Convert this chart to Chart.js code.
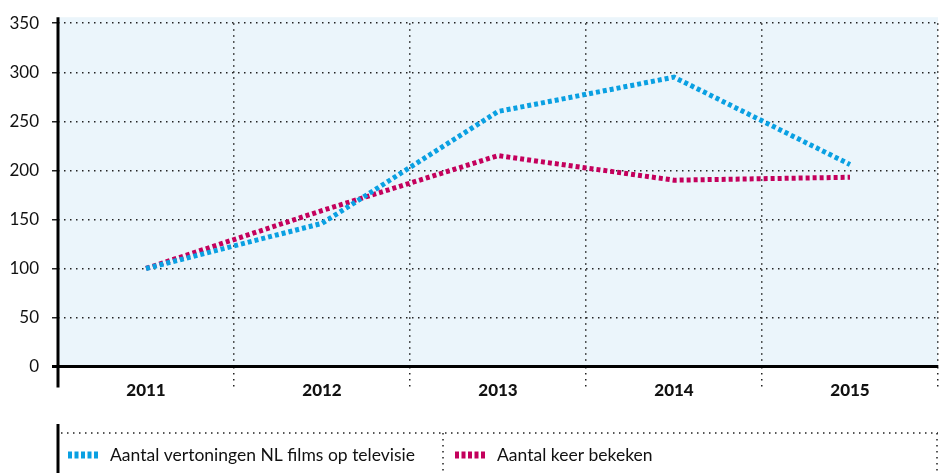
<!DOCTYPE html>
<html>
<head>
<meta charset="utf-8">
<script src="https://cdn.jsdelivr.net/npm/chart.js@4.4.1/dist/chart.umd.min.js"></script>
<style>
  html, body { margin: 0; padding: 0; background: #fff; }
  #wrap { width: 940px; height: 473px; position: relative; }
</style>
</head>
<body>
<div id="wrap"><canvas id="chart" width="940" height="473"></canvas></div>
<script>
// jaren en reeksen (index 2011 = 100)
const jaren = ['2011', '2012', '2013', '2014', '2015'];
const vertoningen = [100, 146, 260, 295, 206];
const bekeken = [100, 159, 215, 190, 193];
const yTicks = [0, 50, 100, 150, 200, 250, 300, 350];

const blauw = '#0aa0e2';
const paars = '#c4005c';
const dotted = [1.5, 4.5];

// achtergrond + zwarte y-as + legenda onderaan
const extras = {
    id: 'extras',
    beforeDraw(chart) {
        const { ctx, chartArea: a } = chart;
        ctx.save();
        ctx.fillStyle = '#ebf5fb';
        ctx.fillRect(a.left, a.top - 6, a.right - a.left, a.bottom - a.top + 6);
        ctx.restore();
    },
    afterDraw(chart) {
        const { ctx, chartArea: a } = chart;
        ctx.save();
        // y-as
        ctx.strokeStyle = '#000';
        ctx.lineWidth = 3;
        ctx.beginPath();
        ctx.moveTo(a.left, a.top - 6);
        ctx.lineTo(a.left, a.bottom + 21);
        ctx.stroke();

        // legenda
        const top = 424;
        ctx.beginPath();
        ctx.moveTo(a.left, top);
        ctx.lineTo(a.left, chart.height);
        ctx.stroke();
        ctx.lineWidth = 1.5;
        ctx.setLineDash(dotted);
        ctx.strokeStyle = '#222';
        ctx.beginPath();
        ctx.moveTo(a.left + 3, top + 9);
        ctx.lineTo(a.right, top + 9);
        ctx.moveTo(443, top + 9);
        ctx.lineTo(443, chart.height);
        ctx.moveTo(a.right - 1, top + 9);
        ctx.lineTo(a.right - 1, chart.height);
        ctx.stroke();

        const xs = [68, 455];
        ctx.font = '17.5px Lato';
        ctx.textBaseline = 'middle';
        chart.data.datasets.forEach((ds, i) => {
            const x = xs[i], y = 455;
            ctx.setLineDash([4, 2.5]);
            ctx.lineWidth = 7;
            ctx.strokeStyle = ds.borderColor;
            ctx.beginPath();
            ctx.moveTo(x, y);
            ctx.lineTo(x + 31, y);
            ctx.stroke();
            ctx.setLineDash([]);
            ctx.fillStyle = '#111';
            ctx.fillText(ds.label, x + 42, y);
        });
        ctx.restore();
    }
};

new Chart(document.getElementById('chart'), {
    type: 'line',
    data: {
        labels: jaren,
        datasets: [{
            label: 'Aantal vertoningen NL films op televisie',
            data: vertoningen,
            borderColor: blauw,
            borderWidth: 5,
            borderDash: [4, 3],
            pointRadius: 0,
            tension: 0
        }, {
            label: 'Aantal keer bekeken',
            data: bekeken,
            borderColor: paars,
            borderWidth: 5,
            borderDash: [4, 3],
            pointRadius: 0,
            tension: 0
        }]
    },
    options: {
        responsive: false,
        animation: false,
        layout: { padding: { left: 0, right: 2, top: -4, bottom: 69 } },
        plugins: {
            legend: { display: false },
            tooltip: { enabled: false }
        },
        scales: {
            x: {
                offset: true,
                afterFit: s => { s.height += 10; },
                grid: {
                    offset: true,
                    color: ctx => ctx.index === 0 ? 'rgba(0,0,0,0)' : '#222',
                    lineWidth: 1.5,
                    tickLength: 21,
                    tickBorderDash: dotted,
                    tickColor: ctx => ctx.index === 0 ? 'rgba(0,0,0,0)' : '#222'
                },
                border: { display: false, dash: dotted },
                ticks: {
                    color: '#111',
                    padding: -7,
                    font: { family: 'Lato', size: 17, weight: 900 }
                }
            },
            y: {
                min: 0,
                max: 350,
                afterBuildTicks: axis => { axis.ticks = yTicks.map(v => ({ value: v })); },
                afterFit: s => { s.width = 58; },
                grid: {
                    color: ctx => ctx.tick && ctx.tick.value === 0 ? '#000' : '#222',
                    lineWidth: ctx => ctx.tick && ctx.tick.value === 0 ? 3 : 1.5,
                    tickLength: 6
                },
                border: {
                    display: false,
                    dash: ctx => ctx.tick && ctx.tick.value === 0 ? [] : dotted
                },
                ticks: {
                    color: '#111',
                    padding: 13,
                    font: { family: 'Lato', size: 17 }
                }
            }
        }
    },
    plugins: [extras]
});
</script>
</body>
</html>
